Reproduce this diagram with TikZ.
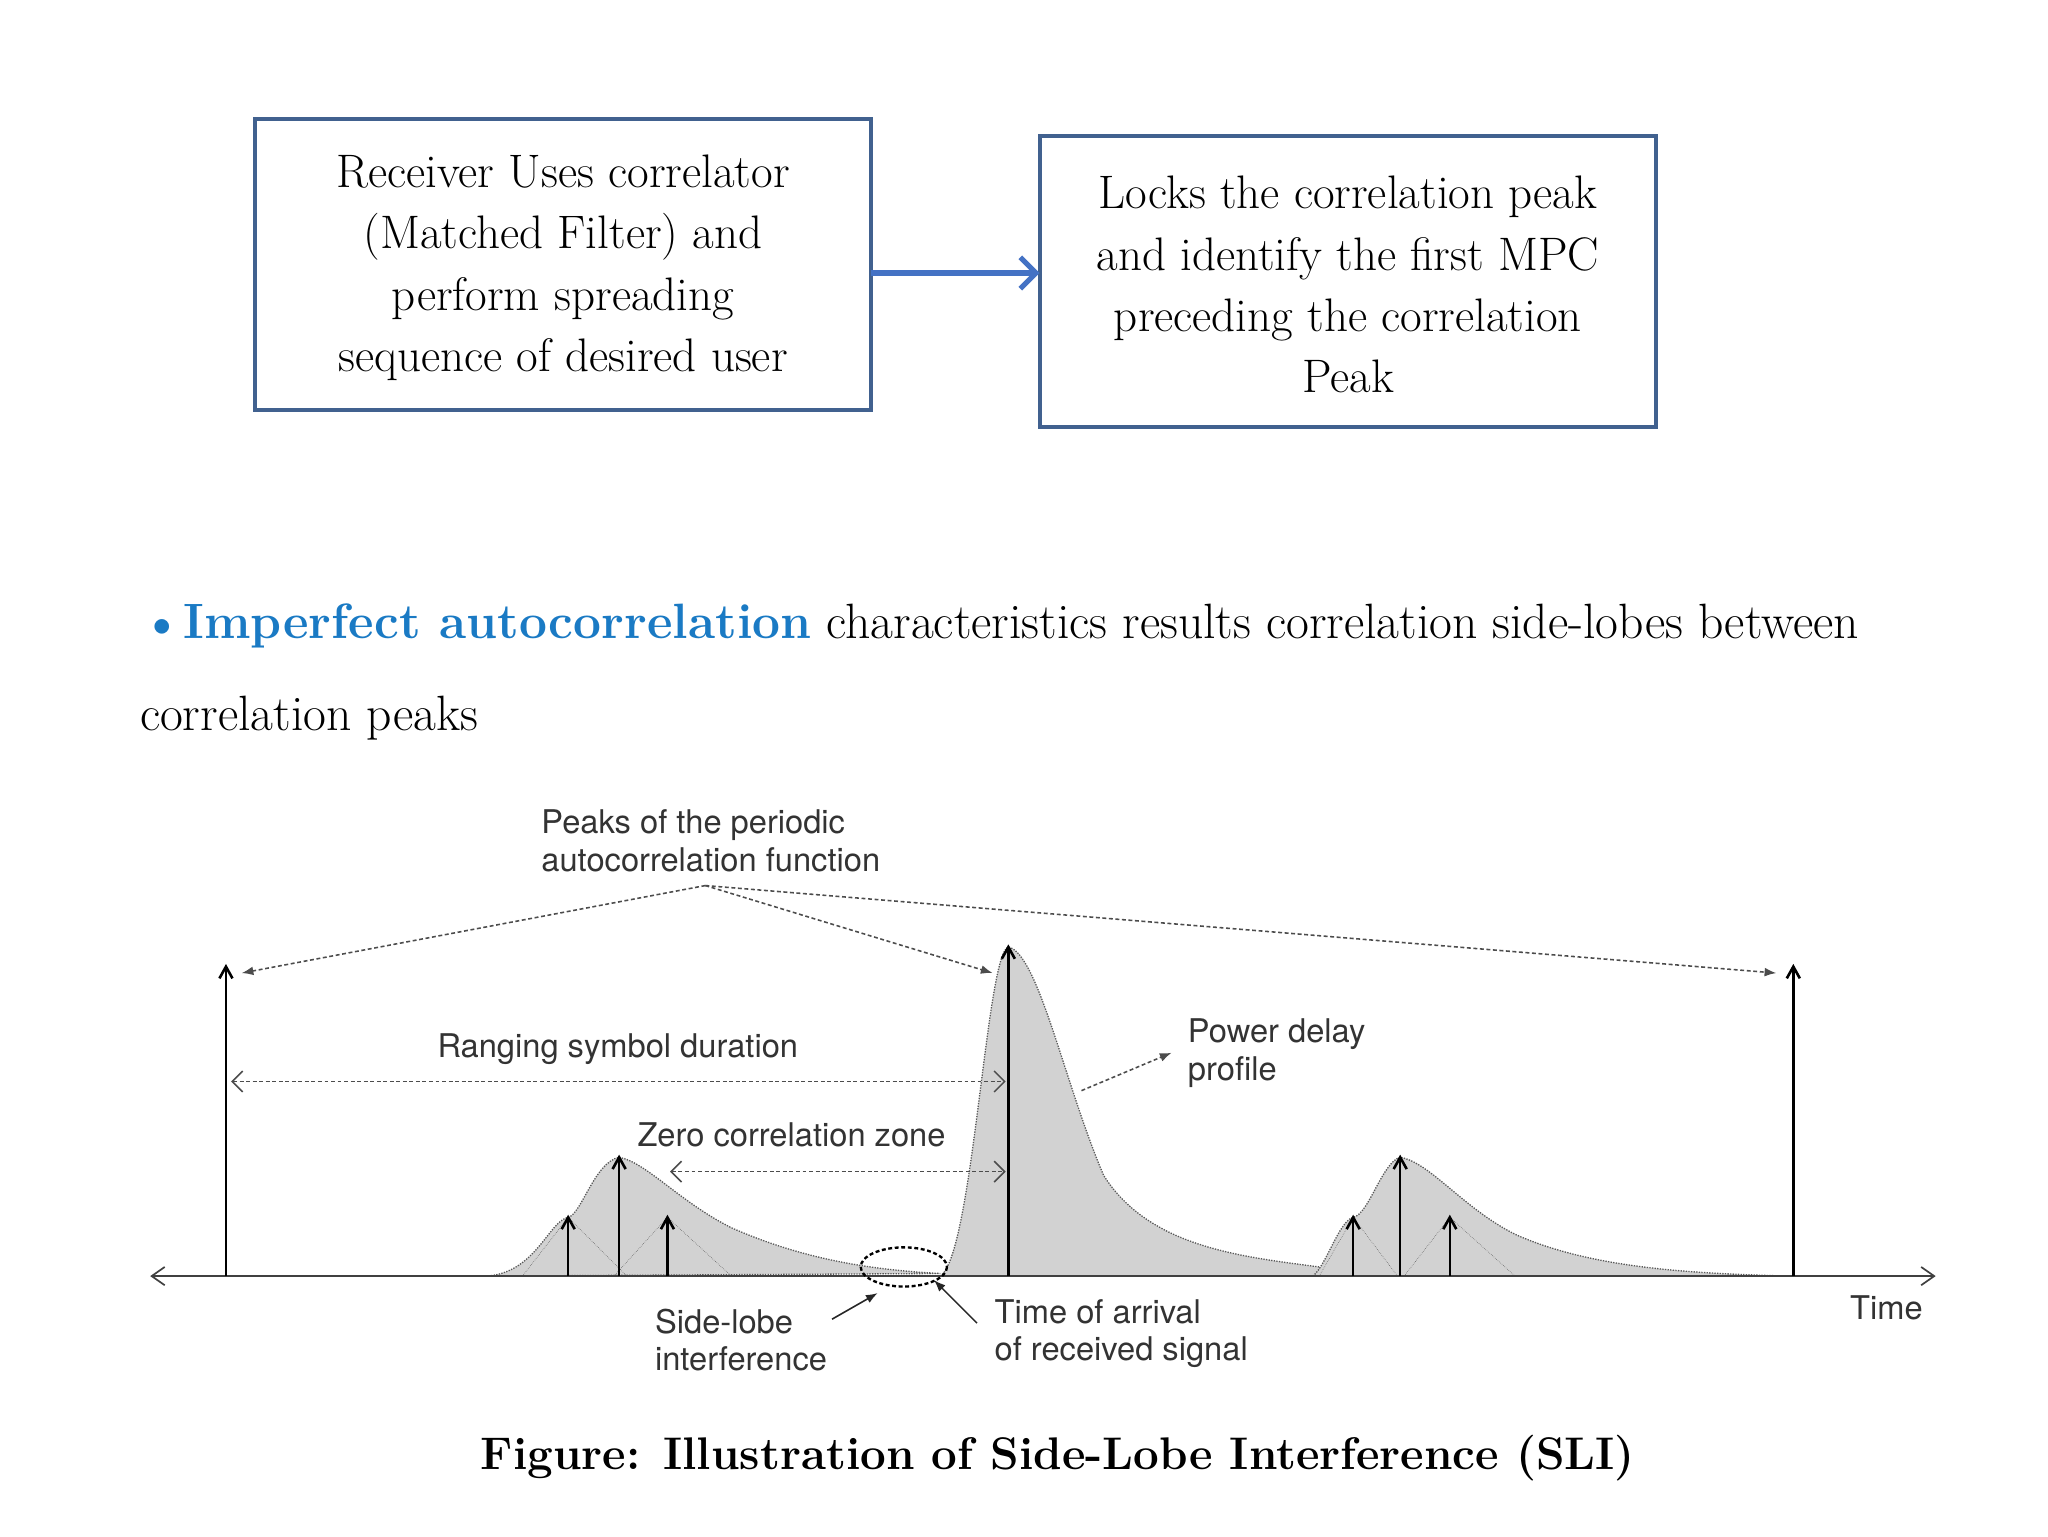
\documentclass[tikz,border=0pt]{standalone}
\usepackage{fontspec}
\newfontfamily\heros{TeX Gyre Heros}
\usetikzlibrary{arrows.meta}
\definecolor{boxblue}{HTML}{41618F}
\definecolor{arrblue}{HTML}{4472C4}
\definecolor{hiblue}{HTML}{1A7AC4}
\definecolor{labgray}{HTML}{333333}
\tikzset{
  box/.style={draw=boxblue,line width=3pt,align=center,inner sep=0pt,
    font=\fontsize{36}{47}\selectfont},
  lab/.style={text=labgray,font=\heros\fontsize{25}{29}\selectfont,align=left,anchor=west},
  dline/.style={densely dashed,line width=1.2pt,gray!60!black},
  lobe/.style={fill=gray!35,draw=gray!70!black,densely dotted,line width=1pt},
  stem/.style={line width=2pt,-{Straight Barb[length=9pt,width=10pt]}}
}
\begin{document}
\begin{tikzpicture}[x=1pt,y=-1pt]
\useasboundingbox (0,0) rectangle (1568,1176);
% top boxes
\draw[boxblue,line width=3pt] (195,91) rectangle (667,314);
\node[box,draw=none] (recv) at (431,205) {Receiver Uses correlator\\(Matched Filter) and\\perform spreading\\sequence of desired user};
\draw[boxblue,line width=3pt] (796,104) rectangle (1268,327);
\node[box,draw=none] (lock) at (1032,218) {Locks the correlation peak\\and identify the first MPC\\preceding the correlation\\Peak};
\coordinate (ra) at (667,209);
\coordinate (la) at (796,209);
\draw[arrblue,line width=4pt,-{Straight Barb[length=12pt,width=24pt]}] (ra) -- (la);
% bullet text
\node[anchor=base west,inner sep=0pt,font=\fontsize{38}{40}\selectfont] (bul) at (107,489)
  {{\color{hiblue}\textbf{\textbullet Imperfect autocorrelation}} characteristics results correlation side-lobes between};
\node[anchor=base west,inner sep=0pt,font=\fontsize{38}{40}\selectfont] (bul2) at (107,559) {correlation peaks};
% lobes
\draw[lobe] (372,977) .. controls (410,975) and (420,935) .. (435,932) .. controls (445,930) and (455,890) .. (474,886)
  .. controls (495,890) and (520,920) .. (560,940) .. controls (610,962) and (660,972) .. (720,975) -- cycle;
\draw[lobe] (720,977) .. controls (745,960) and (755,730) .. (772,725) .. controls (795,730) and (815,830) .. (845,900)
  .. controls (880,955) and (950,962) .. (1010,970) .. controls (1012,974) and (1012,977) .. (1012,977) -- cycle;
\draw[lobe] (1005,977) .. controls (1015,970) and (1025,935) .. (1036,932) .. controls (1048,930) and (1058,890) .. (1072,886)
  .. controls (1095,890) and (1120,925) .. (1160,945) .. controls (1220,972) and (1300,975) .. (1370,977) -- cycle;
\draw[densely dotted,gray!60!black] (400,977) -- (435,932) -- (480,977) (470,977) -- (511,932) -- (560,977)
  (1010,977) -- (1036,932) -- (1070,977) (1075,977) -- (1110,932) -- (1160,977);
% axis
\coordinate (axl) at (115,977);
\coordinate (axr) at (1482,977);
\draw[line width=1.3pt,gray!50!black,{Straight Barb[length=10pt,width=14pt]}-{Straight Barb[length=10pt,width=14pt]}] (axl) -- (axr);
% stems
\foreach \sx/\sy in {173/738,1373/738,772/723,474/884,435/930,511/930,1072/884,1036/930,1110/930}
  \draw[stem] (\sx,977) -- (\sx,\sy);
% labels
\node[lab] (peaks) at (411,644) {Peaks of the periodic\\autocorrelation function};
\coordinate (pk) at (540,678);
\foreach \ex in {185,760,1360}
  \draw[dline,-{Latex[length=9pt]}] (pk) -- (\ex,745);
\node[text=labgray,font=\heros\fontsize{25}{29}\selectfont] (rsd) at (473,803) {Ranging symbol duration};
\draw[dline,{Straight Barb[length=8pt]}-{Straight Barb[length=8pt]}] (177,828) -- (770,828);
\node[text=labgray,font=\heros\fontsize{25}{29}\selectfont] (zcz) at (606,869) {Zero correlation zone};
\draw[dline,{Straight Barb[length=8pt]}-{Straight Barb[length=8pt]}] (513,897) -- (770,897);
\node[lab] (pdp) at (906,806) {Power delay\\profile};
\draw[dline,-{Latex[length=9pt]}] (828,835) -- (897,806);
\node[lab] (sli) at (498,1026) {Side-lobe\\interference};
\draw[line width=1.2pt,gray!30!black,-{Latex[length=9pt]}] (637,1010) -- (672,990);
\draw[dline,line width=1.8pt,black] (692,970) ellipse (33 and 15);
\node[lab] (toa) at (758,1021) {Time of arrival\\of received signal};
\draw[line width=1.2pt,gray!30!black,-{Latex[length=9pt]}] (748,1013) -- (715,980);
\node[lab] (time) at (1413,1001) {Time};
% caption
\node[font=\fontsize{35}{40}\selectfont\bfseries] (cap) at (810,1116) {Figure: Illustration of Side-Lobe Interference (SLI)};
\end{tikzpicture}
\end{document}
